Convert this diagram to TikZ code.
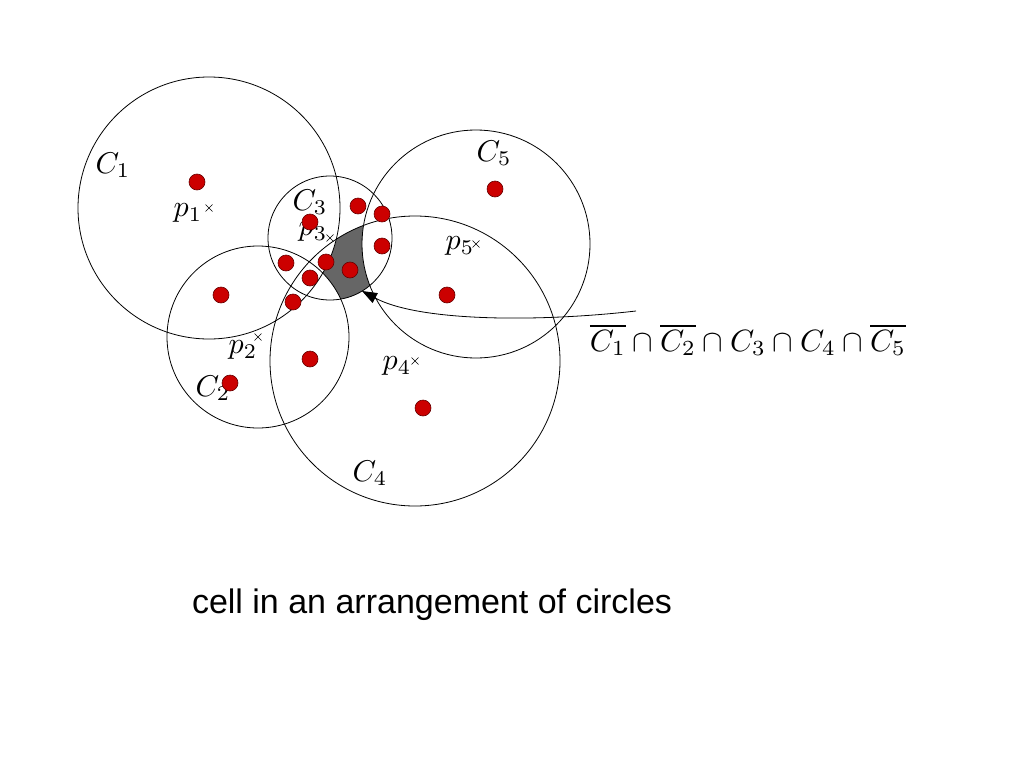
\documentclass[tikz,border=0pt]{standalone}
\usepackage{fontspec}
\newfontfamily\capfont{Liberation Sans}
\usetikzlibrary{arrows.meta}
\begin{document}
\begin{tikzpicture}[x=1pt,y=-1pt,
  circ/.style={draw=black, line width=0.8pt},
  dot/.style={circle, fill=red!80!black, draw=red!40!black, line width=0.6pt, minimum size=16pt, inner sep=0pt},
  lbl/.style={inner sep=0pt, scale=3.0},
  crossmark/.style={line width=0.6pt},
  cellfill/.style={fill=black!60}]
\useasboundingbox (0,0) rectangle (1024,768);
% centres
\coordinate (c1) at (209,208);
\coordinate (c2) at (258,337);
\coordinate (c3) at (330,238);
\coordinate (c4) at (415,361);
\coordinate (c5) at (476,244);
% shaded cell
\begin{scope}
  \clip (c3) circle[radius=62];
  \clip (c4) circle[radius=145];
  \fill[cellfill] (0,0) rectangle (1024,768);
  \fill[white] (c1) circle[radius=131] (c2) circle[radius=91] (c5) circle[radius=114];
\end{scope}
% circles
\draw[circ] (c1) circle[radius=131];
\draw[circ] (c2) circle[radius=91];
\draw[circ] (c3) circle[radius=62];
\draw[circ] (c4) circle[radius=145];
\draw[circ] (c5) circle[radius=114];
% crosses at centres
\foreach \c in {c1,c2,c3,c4,c5}{
  \draw[crossmark] ([shift={(-3.5,-3.5)}]\c) -- ([shift={(3.5,3.5)}]\c);
  \draw[crossmark] ([shift={(-3.5,3.5)}]\c) -- ([shift={(3.5,-3.5)}]\c);
}
% labels
\node[lbl] (C1) at (113,165) {$C_1$};
\node[lbl] (C2) at (213,388) {$C_2$};
\node[lbl] (C3) at (310,202) {$C_3$};
\node[lbl] (C4) at (370,473) {$C_4$};
\node[lbl] (C5) at (494,153) {$C_5$};
\node[lbl] (p1) at (188,213) {$p_1$};
\node[lbl] (p2) at (243,350) {$p_2$};
\node[lbl] (p3) at (313,232) {$p_3$};
\node[lbl] (p4) at (397,366) {$p_4$};
\node[lbl] (p5) at (460,246) {$p_5$};
% red points
\foreach \i/\xx/\yy in {1/197/182, 2/221/295, 3/230/383, 4/310/359, 5/293/302, 6/310/278, 7/286/263, 8/326/262, 9/350/270, 10/310/222, 11/358/206, 12/382/214, 13/382/246, 14/447/295, 15/495/189, 16/423/408}
  \node[dot] (d\i) at (\xx,\yy) {};
% formula and arrow
\node[inner sep=0pt, scale=3.08] (form) at (748,340) {$\overline{C_1}\cap\overline{C_2}\cap C_3\cap C_4\cap\overline{C_5}$};
\coordinate (arrstart) at (636,311);
\coordinate (tip) at (362,291);
\draw[line width=0.8pt, -{Triangle[length=15pt,width=11pt]}] (arrstart) .. controls (540,322) and (420,322) .. (tip);
% caption
\node[inner sep=0pt] (cap) at (432,605) {\capfont\fontsize{34}{40}\selectfont cell in an arrangement of circles};
\end{tikzpicture}
\end{document}
